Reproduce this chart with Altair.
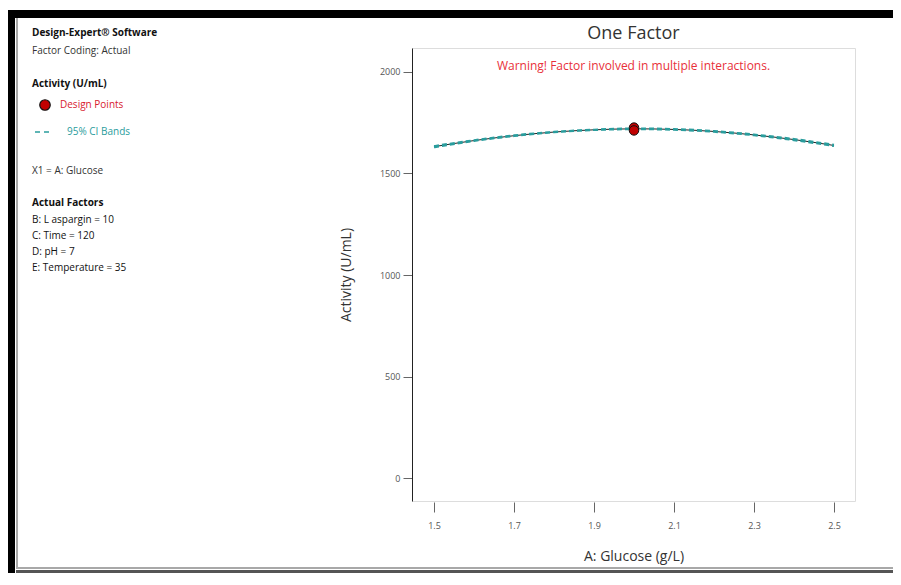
import altair as alt
import pandas as pd

# ---------------- data ----------------
glucose = [1.5, 1.6, 1.7, 1.8, 1.9, 2.0, 2.1, 2.2, 2.3, 2.4, 2.5]
predicted = [1632, 1662, 1686, 1704, 1715, 1720, 1717, 1707, 1690, 1667, 1638]
ci_lower = [1629, 1660, 1684, 1703, 1714, 1718, 1715, 1705, 1688, 1664, 1635]
ci_upper = [1635, 1664, 1688, 1705, 1716, 1722, 1719, 1709, 1692, 1670, 1641]

design_x = [2.0, 2.0]
design_y = [1726, 1712]

x_ticks = [1.5, 1.7, 1.9, 2.1, 2.3, 2.5]
y_ticks = [0, 500, 1000, 1500, 2000]

left_lines = [
    ("Design-Expert® Software", "bold", "#111111"),
    ("Factor Coding: Actual", "normal", "#333333"),
    ("Activity (U/mL)", "bold", "#111111"),
    ("X1 = A: Glucose", "normal", "#333333"),
    ("Actual Factors", "bold", "#111111"),
    ("B: L aspargin = 10", "normal", "#111111"),
    ("C: Time = 120", "normal", "#111111"),
    ("D: pH = 7", "normal", "#111111"),
    ("E: Temperature = 35", "normal", "#111111"),
]
left_line_y = [-15, 3, 36, 123, 155, 172, 188, 204, 220]

FONT = "Open Sans"
W, H = 443, 453

curve = pd.DataFrame({"x": glucose, "pred": predicted, "lo": ci_lower, "hi": ci_upper})
pts = pd.DataFrame({"x": design_x, "y": design_y})

xscale = alt.Scale(domain=[1.445, 2.5525], nice=False, zero=False)
yscale = alt.Scale(domain=[-113, 2118], nice=False, zero=False)

xaxis = alt.Axis(values=x_ticks, format=".1f", title="A: Glucose (g/L)", grid=False,
                 domain=False, tickSize=10, tickColor="#666", offset=1,
                 labelFont=FONT, labelFontSize=9, labelColor="#555", labelPadding=9,
                 titleFont=FONT, titleFontSize=14, titleFontWeight="normal",
                 titleColor="#333", titlePadding=19)
yaxis = alt.Axis(values=y_ticks, format="d", title="Activity (U/mL)", grid=False,
                 domain=True, domainColor="#222", tickSize=9, tickColor="#666",
                 labelFont=FONT, labelFontSize=9, labelColor="#555", labelPadding=3,
                 titleFont=FONT, titleFontSize=14, titleFontWeight="normal",
                 titleColor="#333", titlePadding=26)

base = alt.Chart(curve)

pred_line = base.mark_line(color="#222222", strokeWidth=1, interpolate="monotone").encode(
    x=alt.X("x:Q", scale=xscale, axis=xaxis),
    y=alt.Y("pred:Q", scale=yscale, axis=yaxis),
)
lo_line = base.mark_line(color="#2a9d9d", strokeWidth=2, strokeDash=[5, 3],
                         interpolate="monotone").encode(
    x=alt.X("x:Q", scale=xscale), y=alt.Y("lo:Q", scale=yscale))
hi_line = base.mark_line(color="#2a9d9d", strokeWidth=2, strokeDash=[5, 3],
                         interpolate="monotone").encode(
    x=alt.X("x:Q", scale=xscale), y=alt.Y("hi:Q", scale=yscale))

points = alt.Chart(pts).mark_point(filled=True, shape="circle", size=90,
                                   color="#c00000", stroke="#111", strokeWidth=1,
                                   opacity=1).encode(
    x=alt.X("x:Q", scale=xscale), y=alt.Y("y:Q", scale=yscale))

dummy = pd.DataFrame({"d": [0]})


def txt(text, x, y, size=10, weight="normal", color="#333", align="left", font=FONT):
    return alt.Chart(dummy).mark_text(text=text, align=align, baseline="middle",
                                      fontSize=size, fontWeight=weight, color=color,
                                      font=font).encode(x=alt.value(x), y=alt.value(y))


def box(x, x2, y, y2, color):
    return alt.Chart(dummy).mark_rect(color=color).encode(
        x=alt.value(x), x2=alt.value(x2), y=alt.value(y), y2=alt.value(y2))


layers = [
    # frame
    box(-404, 481, -38, -30, "#000000"),
    box(-404, -397, -38, 525, "#000000"),
    box(-396, -394, -30, 521, "#a8a8a8"),
    box(-396, 481, 519, 521, "#a8a8a8"),
    box(-396, 481, 522, 525, "#555555"),
    pred_line, lo_line, hi_line, points,
    txt("One Factor", W / 2, -14, size=18, color="#333", align="center"),
    txt("Warning! Factor involved in multiple interactions.", W / 2, 18, size=12,
        color="#e8303a", align="center"),
]

for (t, wgt, col), yy in zip(left_lines, left_line_y):
    layers.append(txt(t, -380, yy, size=10, weight=wgt, color=col))

# legend entries
layers.append(alt.Chart(dummy).mark_point(filled=True, shape="circle", size=110,
                                          color="#c00000", stroke="#111",
                                          strokeWidth=1.2, opacity=1).encode(
    x=alt.value(-367), y=alt.value(57)))
layers.append(txt("Design Points", -352, 57, size=10, color="#d8202e"))
layers.append(alt.Chart(dummy).mark_rule(color="#2a9d9d", strokeWidth=1.5,
                                         strokeDash=[5, 4]).encode(
    x=alt.value(-377), x2=alt.value(-359), y=alt.value(84)))
layers.append(txt("95% CI Bands", -345, 84, size=10, color="#2a9d9d"))

chart = alt.layer(*layers).properties(
    width=W, height=H,
    padding={"left": 404, "top": 40, "right": 38, "bottom": 72},
    autosize=alt.AutoSizeParams(type="none"),
).configure_view(stroke="#888888", strokeWidth=1.5).configure(background="white")

chart.save("out.html", embed_options={"renderer": "svg", "actions": False})
